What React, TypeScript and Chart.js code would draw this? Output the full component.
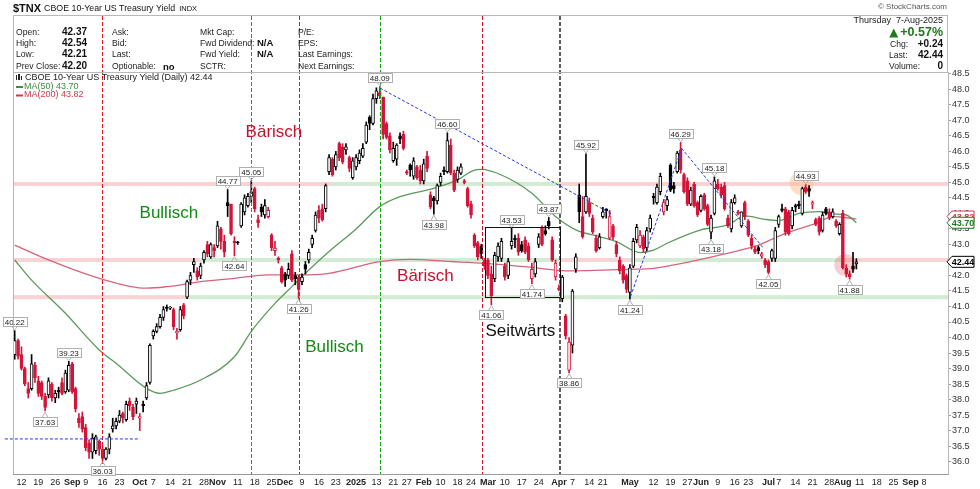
import React, { useEffect, useRef } from "react";
import { Chart, registerables } from "chart.js";
Chart.register(...registerables);

const FONT = "'Liberation Sans', Arial, sans-serif";

// ---- data (index 0 = 8-Aug-2024, one slot per trading day) ----
const PREV_CLOSE = 39.6;
const openV = [
  39.45, 39.9, 39.45, 39.0, 38.35, 38.35, 39.1, 38.6, 38.55, 38.1,
  38.15, 38.5, 38.05, 38.3, 38.55, 38.25, 38.3, 39.15, 38.35, 37.4,
  37.45, 37.1, 36.6, 36.3, 36.35, 36.65, 36.4, 36.1, 36.4, 37.05,
  37.15, 37.3, 37.55, 37.35, 37.95, 37.75, 37.85, 37.4, 37.85, 38.05,
  38.55, 40.05, 40.2, 40.35, 40.65, 40.98, 40.95, 40.9, 40.15, 40.25,
  41.05, 41.3, 41.85, 42.35, 42.15, 42.0, 42.5, 43.0, 42.6, 42.9,
  42.95, 43.5, 43.1, 44.35, 44.3, 43.1, 43.06, 43.6, 44.05, 44.25,
  44.55, 44.8, 43.8, 44.2, 43.95, 43.9, 43.3, 42.8, 42.55, 42.25,
  42.05, 42.0, 42.7, 42.0, 41.95, 41.8, 42.35, 42.5, 43.0, 43.45,
  44.1, 44.15, 44.15, 45.35, 45.75, 45.5, 46.25, 46.15, 46.05, 45.8,
  45.15, 45.5, 45.7, 45.85, 46.3, 47.1, 46.9, 47.7, 47.9, 47.75,
  46.9, 46.5, 45.7, 45.75, 46.5, 46.55, 45.35, 45.55, 45.2, 45.5,
  45.4, 45.05, 45.85, 44.6, 44.5, 44.4, 45.0, 45.4, 45.35, 46.2,
  45.3, 45.1, 45.3, 45.05, 44.8, 44.3, 43.3, 43.05, 42.95, 42.5,
  42.5, 42.05, 41.9, 42.6, 42.55, 42.3, 42.0, 42.95, 43.2, 43.2,
  43.0, 43.15, 42.95, 41.9, 42.05, 43.0, 43.55, 43.45, 43.75, 43.15,
  41.95, 41.6, 41.25, 40.7, 38.95, 39.75, 42.2, 44.6, 43.9, 44.05,
  44.35, 43.85, 43.2, 42.9, 43.9, 44.15, 43.2, 43.6, 43.0, 42.5,
  42.3, 42.0, 41.45, 42.3, 43.15, 42.95, 43.25, 42.9, 43.5, 44.55,
  44.35, 44.7, 44.05, 44.25, 45.55, 44.9, 45.35, 46.05, 45.25, 45.05,
  44.3, 44.95, 44.35, 44.1, 44.6, 44.25, 43.4, 44.0, 44.95, 44.85,
  44.9, 43.85, 43.5, 44.35, 44.05, 43.6, 44.35, 43.75, 43.2, 42.85,
  42.9, 42.62, 42.5, 42.45, 42.55, 42.55, 43.65, 44.15, 44.15, 44.05,
  43.6, 44.25, 44.3, 44.0, 44.85, 44.8, 44.3, 43.8, 43.85, 43.45,
  44.15, 44.05, 43.9, 43.75, 43.35, 44.0, 42.25, 42.05, 42.3, 42.37,
];
const highV = [
  40.22, 39.95, 39.7, 39.05, 38.55, 39.45, 39.2, 38.75, 38.6, 38.2,
  38.7, 38.55, 38.3, 38.4, 38.7, 38.95, 39.23, 39.2, 38.4, 37.55,
  37.6, 37.2, 36.7, 36.9, 36.85, 36.7, 36.5, 36.45, 36.9, 37.4,
  37.4, 37.65, 37.6, 37.95, 38.05, 37.85, 38.05, 37.55, 37.95, 38.55,
  39.8, 40.25, 40.45, 40.75, 41.0, 41.05, 41.0, 40.95, 40.3, 41.0,
  41.1, 41.85, 42.1, 42.55, 42.25, 42.4, 42.8, 43.1, 43.05, 43.0,
  43.75, 43.55, 43.3, 44.77, 44.3, 43.25, 43.1, 44.35, 44.6, 44.65,
  45.05, 44.85, 43.95, 44.3, 44.45, 44.2, 43.35, 43.1, 42.6, 42.3,
  42.1, 42.4, 42.8, 42.1, 42.0, 42.05, 42.45, 42.85, 43.3, 44.05,
  44.25, 44.3, 44.95, 45.9, 45.8, 46.0, 46.3, 46.25, 46.25, 45.85,
  45.8, 45.9, 46.05, 46.25, 46.95, 47.15, 47.85, 48.05, 48.09, 47.75,
  46.95, 46.6, 46.3, 46.25, 46.6, 46.65, 45.4, 45.6, 45.8, 45.55,
  45.55, 45.75, 46.0, 44.7, 44.55, 44.95, 45.3, 45.5, 46.6, 46.4,
  45.4, 45.5, 45.6, 45.1, 44.85, 44.4, 43.35, 43.1, 43.0, 42.55,
  42.55, 42.3, 42.75, 43.05, 43.2, 42.4, 42.55, 43.53, 43.3, 43.35,
  43.1, 43.25, 43.05, 42.4, 42.55, 43.35, 43.6, 43.6, 43.87, 43.25,
  42.5, 41.7, 42.0, 40.75, 40.0, 41.55, 42.7, 44.95, 44.55, 45.92,
  44.5, 43.95, 43.3, 43.35, 44.2, 44.15, 44.1, 43.65, 43.1, 42.6,
  42.35, 42.05, 42.35, 43.2, 43.65, 43.45, 43.3, 43.55, 43.95, 44.65,
  44.95, 45.3, 44.45, 44.55, 45.6, 45.0, 46.0, 46.29, 45.3, 45.15,
  44.85, 45.0, 44.4, 44.6, 44.65, 44.3, 43.95, 45.18, 45.1, 44.95,
  45.0, 43.95, 44.45, 44.6, 44.1, 44.05, 44.4, 43.8, 43.3, 42.95,
  42.95, 42.75, 42.55, 42.5, 42.85, 43.55, 43.95, 44.3, 44.2, 44.1,
  44.2, 44.3, 44.4, 44.85, 44.93, 44.9, 44.4, 43.85, 43.9, 44.05,
  44.2, 44.15, 44.15, 43.8, 43.7, 44.1, 42.35, 42.15, 42.75, 42.54,
];
const lowV = [
  39.3, 39.3, 38.95, 38.45, 38.05, 38.3, 38.55, 38.1, 38.0, 37.63,
  38.05, 37.95, 37.9, 38.05, 38.15, 38.2, 38.25, 38.2, 37.6, 37.1,
  36.95, 36.35, 36.1, 36.1, 36.25, 36.2, 36.03, 36.05, 36.25, 36.95,
  37.05, 37.25, 37.25, 37.3, 37.65, 37.35, 37.55, 37.0, 37.6, 38.0,
  38.5, 39.95, 40.15, 40.3, 40.55, 40.85, 40.9, 40.25, 39.95, 40.2,
  40.6, 41.25, 41.7, 42.1, 41.85, 41.9, 42.4, 42.6, 42.55, 42.6,
  42.9, 42.85, 42.6, 43.9, 43.3, 42.64, 43.0, 43.55, 43.95, 44.2,
  44.35, 44.05, 43.55, 43.9, 43.85, 43.85, 42.8, 42.65, 42.4, 41.75,
  41.65, 41.9, 41.8, 41.7, 41.26, 41.7, 42.05, 42.4, 42.9, 43.4,
  43.7, 43.75, 44.05, 45.25, 45.2, 45.4, 45.7, 45.6, 45.9, 45.35,
  45.1, 45.4, 45.6, 45.8, 46.25, 46.7, 46.85, 47.55, 47.7, 46.4,
  46.4, 45.95, 45.65, 45.55, 46.25, 46.05, 45.25, 45.2, 45.1, 45.1,
  44.95, 44.95, 45.35, 44.15, 43.98, 44.3, 44.9, 45.25, 45.3, 45.25,
  44.7, 45.0, 45.25, 44.95, 44.2, 43.85, 42.9, 42.5, 42.55, 42.2,
  41.9, 41.06, 41.8, 42.45, 42.45, 41.85, 41.9, 42.85, 42.9, 42.65,
  42.75, 42.7, 42.45, 41.74, 41.95, 42.9, 42.95, 43.3, 43.5, 42.45,
  41.85, 41.5, 41.15, 39.95, 38.86, 39.5, 42.1, 43.7, 43.2, 44.0,
  43.9, 43.35, 42.75, 42.85, 43.85, 43.85, 43.15, 43.15, 42.6, 42.05,
  41.75, 41.45, 41.24, 42.25, 43.05, 42.9, 42.75, 42.8, 43.4, 44.3,
  44.3, 44.6, 43.95, 44.1, 44.7, 44.65, 45.3, 45.3, 44.65, 44.25,
  44.25, 44.2, 43.9, 44.05, 44.1, 43.6, 43.18, 43.95, 44.75, 44.5,
  44.1, 43.55, 43.4, 44.3, 43.95, 43.55, 43.8, 43.25, 42.85, 42.7,
  42.7, 42.55, 42.25, 42.05, 42.45, 42.45, 43.55, 44.05, 43.3, 43.3,
  43.5, 44.05, 44.15, 43.95, 44.65, 44.55, 44.15, 43.6, 43.3, 43.4,
  43.95, 43.8, 43.85, 43.55, 43.3, 42.2, 41.95, 41.88, 42.1, 42.21,
];
const closeV = [
  39.9, 39.4, 39.0, 38.5, 38.2, 39.15, 38.7, 38.2, 38.1, 37.75,
  38.6, 38.05, 38.2, 38.25, 38.2, 38.85, 39.1, 38.25, 37.7, 37.25,
  37.05, 36.45, 36.3, 36.75, 36.8, 36.4, 36.1, 36.4, 36.8, 37.15,
  37.3, 37.5, 37.4, 37.85, 37.8, 37.45, 37.95, 37.45, 37.8, 38.45,
  39.75, 40.2, 40.35, 40.65, 40.9, 40.94, 40.96, 40.35, 40.2, 40.9,
  40.7, 41.8, 42.0, 42.45, 41.95, 42.3, 42.75, 42.7, 43.0, 42.8,
  43.6, 43.1, 42.75, 44.25, 43.35, 43.05, 43.05, 44.3, 44.5, 44.55,
  44.7, 44.15, 43.7, 44.05, 44.25, 44.1, 42.9, 42.88, 42.5, 41.8,
  41.85, 42.2, 41.85, 41.9, 41.55, 41.95, 42.2, 42.75, 43.2, 43.95,
  43.85, 43.8, 44.9, 45.8, 45.25, 45.9, 45.8, 45.65, 46.15, 45.45,
  45.7, 45.8, 45.95, 46.1, 46.85, 46.9, 47.7, 47.95, 47.8, 46.55,
  46.45, 46.05, 46.1, 46.2, 46.4, 46.1, 45.3, 45.4, 45.7, 45.15,
  45.05, 45.6, 45.45, 44.2, 44.4, 44.9, 45.2, 45.35, 46.35, 45.3,
  44.75, 45.4, 45.5, 45.0, 44.25, 43.95, 42.95, 42.6, 42.7, 42.3,
  42.0, 41.35, 42.65, 42.95, 43.1, 41.95, 42.45, 43.1, 43.15, 42.75,
  42.8, 42.75, 42.5, 42.2, 42.45, 43.25, 43.0, 43.35, 43.6, 42.5,
  42.4, 41.55, 41.95, 40.05, 39.85, 41.5, 42.6, 44.05, 43.25, 44.55,
  44.0, 43.4, 42.8, 43.25, 44.05, 44.08, 43.9, 43.25, 42.7, 42.15,
  41.85, 41.55, 42.25, 43.1, 43.55, 43.3, 42.85, 43.45, 43.85, 44.5,
  44.85, 45.2, 44.35, 44.45, 44.75, 44.8, 45.95, 45.4, 44.7, 44.3,
  44.75, 44.25, 43.95, 44.55, 44.15, 43.65, 43.85, 45.05, 44.8, 44.6,
  44.15, 43.6, 44.35, 44.5, 44.0, 44.05, 43.9, 43.3, 42.95, 42.75,
  42.8, 42.7, 42.35, 42.1, 42.8, 43.45, 43.9, 44.1, 43.4, 43.35,
  44.1, 44.2, 44.25, 44.8, 44.7, 44.72, 44.35, 43.65, 43.4, 43.95,
  44.0, 43.85, 44.05, 43.6, 43.65, 42.25, 42.05, 41.95, 42.2, 42.44,
];

const ma50Idx = [0, 5, 15, 25, 30, 39, 43, 47, 55, 65, 70, 77, 82, 86, 93, 101, 108, 114, 124, 131, 136, 138, 144, 153, 160, 166, 173, 178, 185, 189, 193, 203, 211, 216, 222, 226, 232, 238, 242, 246, 249];
const ma50Val = [42.5, 41.85, 40.78, 39.6, 39.17, 38.36, 38.2, 38.3, 38.63, 39.38, 40.2, 41.1, 41.64, 42.07, 42.77, 43.5, 44.22, 44.54, 44.81, 45.08, 45.4, 45.42, 45.24, 44.65, 43.9, 43.47, 43.25, 43.09, 42.74, 42.82, 43.04, 43.47, 43.63, 43.92, 43.81, 43.77, 44.0, 44.06, 43.98, 43.95, 43.7];
const ma200Idx = [0, 10, 25, 39, 45, 55, 65, 75, 84, 93, 108, 117, 129, 139, 153, 163, 182, 189, 195, 203, 213, 220, 228, 237, 242, 249];
const ma200Val = [42.98, 42.5, 41.91, 41.59, 41.64, 41.8, 41.91, 42.02, 42.02, 42.07, 42.45, 42.52, 42.45, 42.39, 42.26, 42.15, 42.2, 42.23, 42.34, 42.52, 42.77, 42.98, 43.36, 43.68, 43.9, 43.82];

const xTickIdx = [2, 7, 12, 17, 21, 26, 31, 37, 41, 46, 51, 56, 60, 66, 71, 76, 80, 85, 90, 95, 101, 107, 112, 116, 121, 126, 131, 135, 140, 145, 150, 155, 161, 165, 170, 174, 182, 189, 194, 199, 203, 208, 213, 217, 223, 226, 231, 236, 241, 245, 250, 255, 260, 265, 269];
const xTickLabels = ["12", "19", "26", "Sep", "9", "16", "23", "Oct", "7", "14", "21", "28", "Nov", "11", "18", "25", "Dec", "9", "16", "23", "2025", "13", "21", "27", "Feb", "10", "18", "24", "Mar", "10", "17", "24", "Apr", "7", "14", "21", "May", "12", "19", "27", "Jun", "9", "16", "23", "Jul", "7", "14", "21", "28", "Aug", "11", "18", "25", "Sep", "8"];
const boldLabels = ["Sep", "Oct", "Nov", "Dec", "2025", "Feb", "Mar", "Apr", "May", "Jun", "Jul", "Aug"];
const yTicks = [36, 36.5, 37, 37.5, 38, 38.5, 39, 39.5, 40, 40.5, 41, 41.5, 42, 42.5, 43, 43.5, 44, 44.5, 45, 45.5, 46, 46.5, 47, 47.5, 48, 48.5];

// labelled highs / lows
const markIdx = [0, 16, 9, 26, 63, 70, 65, 84, 108, 128, 124, 147, 158, 153, 141, 164, 169, 182, 197, 207, 206, 223, 234, 247];
const markIsHigh = [1, 1, 0, 0, 1, 1, 0, 0, 1, 1, 0, 1, 1, 0, 0, 0, 1, 0, 1, 1, 0, 0, 1, 0];

// ---- annotations ----
const PINK = "rgba(240,150,150,0.42)";
const LGREEN = "rgba(150,205,150,0.42)";
const BANDS = [
  { v: 44.95, a: -0.5, b: 93.5, c: PINK },
  { v: 44.95, a: 93.5, b: 161, c: LGREEN },
  { v: 44.95, a: 161, b: 276.1, c: PINK },
  { v: 42.5, a: -0.5, b: 55, c: PINK },
  { v: 42.5, a: 55, b: 161, c: LGREEN },
  { v: 42.5, a: 161, b: 182, c: PINK },
  { v: 42.5, a: 182, b: 245.5, c: LGREEN },
  { v: 42.5, a: 245.5, b: 276.1, c: PINK },
  { v: 41.3, a: -0.5, b: 51, c: PINK },
  { v: 41.3, a: 51, b: 276.1, c: LGREEN },
];
const VLINES = [
  { at: 25.9, c: "#e8141e", w: 1 },
  { at: 70, c: "#12a812", w: 1 },
  { at: 84, c: "#e8141e", w: 1 },
  { at: 108, c: "#12a812", w: 1 },
  { at: 138.2, c: "#d0102a", w: 1 },
  { at: 161.1, c: "#606060", w: 2 },
];
const BLUE_LINES = [
  [-2.9, 36.73, 37.1, 36.73],
  [108.1, 48.04, 176.7, 43.98],
  [182.2, 41.32, 197.3, 46.1],
  [197.3, 46.1, 221.5, 42.88],
];
const BOX = [139.2, 43.57, 161.3, 41.32];
const TEXTS = [
  { t: "Bärisch", i: 76.7, v: 46.6, c: "#c8102e" },
  { t: "Bullisch", i: 45.6, v: 44.02, c: "#138a13" },
  { t: "Bullisch", i: 94.6, v: 39.7, c: "#138a13" },
  { t: "Bärisch", i: 121.5, v: 41.98, c: "#c8102e" },
  { t: "Seitwärts", i: 149.6, v: 40.19, c: "#111111" },
];
const CIRCLES = [
  { i: 232.8, v: 44.97, r: 12, c: "rgba(250,185,135,0.45)" },
  { i: 245.7, v: 42.34, r: 11, c: "rgba(225,100,100,0.30)" },
];

const RED = "#d5143a";

function candleColor(i: number) {
  const prev = i === 0 ? PREV_CLOSE : closeV[i - 1];
  return closeV[i] >= prev ? "#000000" : RED;
}

function drawTag(ctx: any, px: number, py: number, text: string, high: boolean) {
  ctx.font = `8px ${FONT}`;
  const w = ctx.measureText(text).width + 4;
  const h = 9;
  const cy = high ? py - 9 : py + 10;
  const bx = Math.round(px - w / 2) + 0.5;
  const by = Math.round(cy - h / 2) + 0.5;
  ctx.fillStyle = "rgba(255,255,255,0.92)";
  ctx.strokeStyle = "#b0b0b0";
  ctx.lineWidth = 1;
  ctx.fillRect(bx, by, w, h);
  ctx.strokeRect(bx, by, w, h);
  ctx.beginPath();
  if (high) {
    ctx.moveTo(px - 3, by + h);
    ctx.lineTo(px, py - 1);
    ctx.lineTo(px + 3, by + h);
  } else {
    ctx.moveTo(px - 3, by);
    ctx.lineTo(px, py + 1);
    ctx.lineTo(px + 3, by);
  }
  ctx.stroke();
  ctx.fillStyle = "#222";
  ctx.textAlign = "center";
  ctx.textBaseline = "middle";
  ctx.fillText(text, px, by + h / 2 + 0.5);
}

function priceTag(ctx: any, x0: number, py: number, text: string, color: string) {
  ctx.beginPath();
  ctx.moveTo(x0, py);
  ctx.lineTo(x0 + 5, py - 5.5);
  ctx.lineTo(x0 + 27, py - 5.5);
  ctx.lineTo(x0 + 27, py + 5.5);
  ctx.lineTo(x0 + 5, py + 5.5);
  ctx.closePath();
  ctx.fillStyle = "#fff";
  ctx.fill();
  ctx.strokeStyle = color;
  ctx.lineWidth = 1;
  ctx.stroke();
  ctx.fillStyle = color;
  ctx.font = `bold 9px ${FONT}`;
  ctx.textAlign = "center";
  ctx.textBaseline = "middle";
  ctx.fillText(text, x0 + 16, py + 0.5);
}

const overlay = {
  id: "overlay",
  beforeDatasetsDraw(chart: any) {
    const { ctx, chartArea: a, scales } = chart;
    const xs = scales.x, ys = scales.y;
    ctx.save();
    ctx.beginPath();
    ctx.rect(a.left, a.top, a.right - a.left, a.bottom - a.top);
    ctx.clip();
    for (const b of BANDS) {
      const py = ys.getPixelForValue(b.v);
      const x0 = xs.getPixelForValue(b.a);
      const x1 = xs.getPixelForValue(b.b);
      ctx.fillStyle = b.c;
      ctx.fillRect(x0, py - 2, x1 - x0, 4);
    }
    for (const c of CIRCLES) {
      ctx.beginPath();
      ctx.arc(xs.getPixelForValue(c.i), ys.getPixelForValue(c.v), c.r, 0, Math.PI * 2);
      ctx.fillStyle = c.c;
      ctx.fill();
    }
    ctx.restore();
  },
  afterDatasetsDraw(chart: any) {
    const { ctx, chartArea: a, scales } = chart;
    const xs = scales.x, ys = scales.y;
    ctx.save();
    for (const l of VLINES) {
      const px = Math.round(xs.getPixelForValue(l.at));
      ctx.fillStyle = l.c;
      for (let y = 16; y < a.bottom; y += 6) {
        ctx.fillRect(px, y, l.w, Math.min(4, a.bottom - y));
      }
    }
    ctx.setLineDash([3, 2]);
    ctx.strokeStyle = "#2036e0";
    ctx.lineWidth = 1;
    for (const l of BLUE_LINES) {
      ctx.beginPath();
      ctx.moveTo(xs.getPixelForValue(l[0]), ys.getPixelForValue(l[1]));
      ctx.lineTo(xs.getPixelForValue(l[2]), ys.getPixelForValue(l[3]));
      ctx.stroke();
    }
    ctx.setLineDash([]);
    const bx0 = Math.round(xs.getPixelForValue(BOX[0])) + 0.5;
    const by0 = Math.round(ys.getPixelForValue(BOX[1])) + 0.5;
    const bx1 = Math.round(xs.getPixelForValue(BOX[2])) + 0.5;
    const by1 = Math.round(ys.getPixelForValue(BOX[3])) + 0.5;
    ctx.strokeStyle = "#111";
    ctx.strokeRect(bx0, by0, bx1 - bx0, by1 - by0);
    ctx.font = `17px ${FONT}`;
    ctx.textAlign = "center";
    ctx.textBaseline = "middle";
    for (const t of TEXTS) {
      ctx.fillStyle = t.c;
      ctx.fillText(t.t, xs.getPixelForValue(t.i), ys.getPixelForValue(t.v));
    }
    markIdx.forEach((i, k) => {
      const hi = markIsHigh[k] === 1;
      const v = hi ? highV[i] : lowV[i];
      drawTag(ctx, xs.getPixelForValue(i), ys.getPixelForValue(v), v.toFixed(2), hi);
    });
    ctx.restore();
  },
  afterDraw(chart: any) {
    const { ctx, chartArea: a, scales } = chart;
    const ys = scales.y;
    ctx.save();
    ctx.strokeStyle = "#b8b8b8";
    ctx.lineWidth = 1;
    ctx.beginPath();
    ctx.moveTo(a.left + 0.5, 15.5);
    ctx.lineTo(a.left + 0.5, a.bottom);
    ctx.moveTo(a.left, 15.5);
    ctx.lineTo(a.right, 15.5);
    ctx.moveTo(a.right - 0.5, 15.5);
    ctx.lineTo(a.right - 0.5, a.top);
    ctx.moveTo(a.left, a.top + 0.5);
    ctx.lineTo(a.right, a.top + 0.5);
    ctx.stroke();

    ctx.textBaseline = "middle";
    ctx.textAlign = "left";
    ctx.fillStyle = "#111";
    ctx.font = `bold 11px ${FONT}`;
    ctx.fillText("$TNX", 13, 8.5);
    const w1 = ctx.measureText("$TNX").width;
    ctx.font = `8.8px ${FONT}`;
    ctx.fillText("CBOE 10-Year US Treasury Yield", 13 + w1 + 3, 8.5);
    const w2 = ctx.measureText("CBOE 10-Year US Treasury Yield").width;
    ctx.font = `7.5px ${FONT}`;
    ctx.fillText("INDX", 13 + w1 + 3 + w2 + 4, 9);
    ctx.fillStyle = "#555";
    ctx.font = `8px ${FONT}`;
    ctx.textAlign = "right";
    ctx.fillText("© StockCharts.com", 947, 7);

    const rows = [32.3, 43.3, 54.7, 66.3];
    ctx.textAlign = "left";
    const lab = (t: string, x: number, y: number) => {
      ctx.font = `8.6px ${FONT}`;
      ctx.fillStyle = "#222";
      ctx.fillText(t, x, y);
    };
    const val = (t: string, x: number, y: number, size = 10) => {
      ctx.font = `bold ${size}px ${FONT}`;
      ctx.fillStyle = "#111";
      ctx.fillText(t, x, y);
    };
    lab("Open:", 16, rows[0]); val("42.37", 62, rows[0]);
    lab("High:", 16, rows[1]); val("42.54", 62, rows[1]);
    lab("Low:", 16, rows[2]); val("42.21", 62, rows[2]);
    lab("Prev Close:", 16, rows[3]); val("42.20", 62, rows[3]);
    lab("Ask:", 112, rows[0]);
    lab("Bid:", 112, rows[1]);
    lab("Last:", 112, rows[2]);
    lab("Optionable:", 112, rows[3]); val("no", 163, rows[3] + 1, 9.5);
    lab("Mkt Cap:", 200, rows[0]);
    lab("Fwd Dividend:", 200, rows[1]); val("N/A", 257, rows[1], 9.5);
    lab("Fwd Yield:", 200, rows[2]); val("N/A", 257, rows[2], 9.5);
    lab("SCTR:", 200, rows[3]);
    lab("P/E:", 298, rows[0]);
    lab("EPS:", 298, rows[1]);
    lab("Last Earnings:", 298, rows[2]);
    lab("Next Earnings:", 298, rows[3]);

    ctx.textAlign = "right";
    ctx.font = `9px ${FONT}`;
    ctx.fillStyle = "#222";
    ctx.fillText("Thursday  7-Aug-2025", 943, 20.7);
    ctx.font = `bold 12.5px ${FONT}`;
    ctx.fillStyle = "#1d7a1d";
    ctx.fillText("+0.57%", 943, 33);
    const wp = ctx.measureText("+0.57%").width;
    const tx = 943 - wp - 2;
    ctx.beginPath();
    ctx.moveTo(tx - 9, 37.5);
    ctx.lineTo(tx - 4.5, 28.5);
    ctx.lineTo(tx, 37.5);
    ctx.closePath();
    ctx.fill();
    ctx.textAlign = "left";
    lab("Chg:", 890, 44.2);
    lab("Last:", 889, 55.3);
    lab("Volume:", 889, 66.3);
    ctx.textAlign = "right";
    val("+0.24", 943, 44.2);
    val("42.44", 943, 55.3);
    val("0", 943, 66.3);

    ctx.textAlign = "left";
    ctx.fillStyle = "#222";
    ctx.fillRect(16, 75, 1, 5);
    ctx.fillRect(18, 74, 2, 6);
    ctx.fillRect(21, 76, 1, 4);
    ctx.font = `9px ${FONT}`;
    ctx.fillText("CBOE 10-Year US Treasury Yield (Daily) 42.44", 25, 77.5);
    ctx.fillStyle = "#3f8a3f";
    ctx.fillRect(16, 86, 7, 2);
    ctx.fillText("MA(50) 43.70", 24, 86.5);
    ctx.fillStyle = "#d0384e";
    ctx.fillRect(16, 94.5, 7, 2);
    ctx.fillText("MA(200) 43.82", 24, 95);

    priceTag(ctx, a.right - 1, ys.getPixelForValue(43.9), "43.82", "#d0384e");
    priceTag(ctx, a.right - 1, ys.getPixelForValue(43.7), "43.70", "#1d7a1d");
    priceTag(ctx, a.right - 1, ys.getPixelForValue(42.44), "42.44", "#000");
    ctx.restore();
  },
};

export default function App() {
  const ref = useRef<HTMLCanvasElement | null>(null);
  useEffect(() => {
    const n = closeV.length;
    const idx = Array.from({ length: n }, (_, i) => i);
    const colors = idx.map(candleColor);
    const bodies = idx.map((i) => {
      const lo = Math.min(openV[i], closeV[i]);
      const hi = Math.max(openV[i], closeV[i]);
      return { x: i, y: [lo, hi] };
    });
    const wicks = idx.map((i) => ({ x: i, y: [lowV[i], highV[i]] }));
    const fills = idx.map((i) => (closeV[i] < openV[i] ? colors[i] : "#ffffff"));
    const chart = new Chart(ref.current as HTMLCanvasElement, {
      type: "bar",
      data: {
        datasets: [
          {
            type: "bar",
            data: bodies as any,
            backgroundColor: fills,
            borderColor: colors,
            borderWidth: 1,
            borderSkipped: false,
            barThickness: 3,
            minBarLength: 1,
            grouped: false,
            order: 1,
          },
          {
            type: "bar",
            data: wicks as any,
            backgroundColor: colors,
            borderWidth: 0,
            barThickness: 1,
            grouped: false,
            order: 2,
          },
          {
            type: "line",
            data: ma50Idx.map((x, k) => ({ x, y: ma50Val[k] })) as any,
            borderColor: "#5b9a5b",
            borderWidth: 1.3,
            pointRadius: 0,
            cubicInterpolationMode: "monotone",
            order: 3,
          },
          {
            type: "line",
            data: ma200Idx.map((x, k) => ({ x, y: ma200Val[k] })) as any,
            borderColor: "#d4667a",
            borderWidth: 1.3,
            pointRadius: 0,
            cubicInterpolationMode: "monotone",
            order: 4,
          },
        ],
      },
      options: {
        animation: false,
        responsive: false,
        maintainAspectRatio: false,
        devicePixelRatio: 1,
        events: [],
        layout: { padding: { left: 13, top: 72, right: 0, bottom: 0 } },
        plugins: { legend: { display: false }, tooltip: { enabled: false } },
        scales: {
          x: {
            type: "linear",
            min: -0.5,
            max: 276.1,
            offset: false,
            grid: { display: false, drawTicks: false },
            border: { display: true, color: "#9a9a9a", dash: [1, 2] },
            afterBuildTicks: (s: any) => {
              s.ticks = xTickIdx.map((v) => ({ value: v }));
            },
            afterFit: (s: any) => {
              s.height = 15;
            },
            ticks: {
              autoSkip: false,
              maxRotation: 0,
              padding: 3,
              color: "#222",
              font: (c: any) => ({
                family: FONT,
                size: 9,
                weight: boldLabels.includes(xTickLabels[c.index]) ? "bold" : "normal",
              }),
              callback: (_v: any, i: number) => xTickLabels[i],
            },
          },
          y: {
            type: "linear",
            position: "right",
            min: 35.6,
            max: 48.56,
            grid: { display: true, drawOnChartArea: false, drawTicks: true, tickLength: 3, color: "#a0a0a0" },
            border: { display: true, color: "#b8b8b8" },
            afterBuildTicks: (s: any) => {
              s.ticks = yTicks.map((v) => ({ value: v }));
            },
            afterFit: (s: any) => {
              s.width = 32;
            },
            ticks: {
              padding: 1,
              color: "#333",
              font: { family: FONT, size: 9 },
              callback: (v: any) => Number(v).toFixed(1),
            },
          },
        },
      } as any,
      plugins: [overlay],
    });
    return () => chart.destroy();
  }, []);
  return (
    <div style={{ position: "fixed", left: 0, top: 0, width: 980, height: 489, background: "#fff" }}>
      <canvas ref={ref} width={980} height={489} style={{ width: 980, height: 489, display: "block" }} />
    </div>
  );
}
